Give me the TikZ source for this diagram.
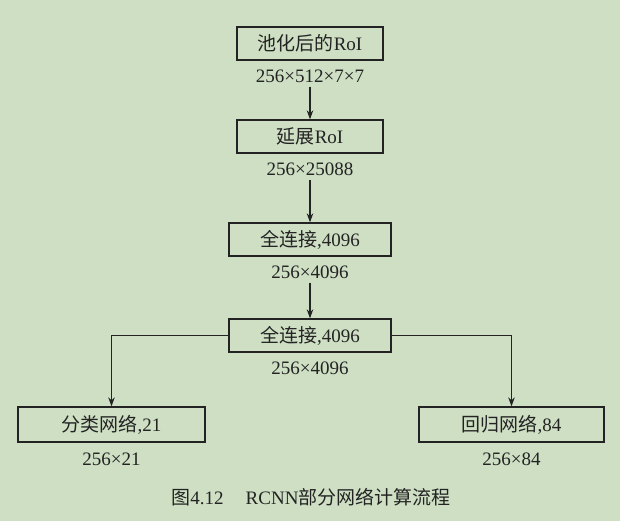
\documentclass[tikz,border=0pt]{standalone}
\usepackage{fontspec}
\setmainfont{Liberation Serif}
\newfontfamily\cjk{Noto Sans CJK SC}
\usetikzlibrary{arrows.meta}
\definecolor{bg}{RGB}{206,223,196}
\definecolor{ink}{RGB}{35,35,35}
\begin{document}
\begin{tikzpicture}[x=1pt,y=-1pt,
  box/.style={draw=ink,line width=1.3pt,minimum height=33pt,inner sep=0pt,text=ink,font=\fontsize{19}{22}\selectfont},
  lab/.style={inner sep=0pt,text=ink,font=\fontsize{19}{22}\selectfont},
  arr/.style={draw=ink,line width=1.2pt,-{Stealth[length=9pt,width=6.5pt]}}]
\fill[bg] (0,0) rectangle (620,521);
\useasboundingbox (0,0) rectangle (620,521);
\node[box,minimum width=146pt] (b1) at (310,43.5) {{\cjk 池化后的}RoI};
\node[lab] (l1) at (310,76) {256×512×7×7};
\node[box,minimum width=146pt] (b2) at (310,136.5) {{\cjk 延展}RoI};
\node[lab] (l2) at (310,169) {256×25088};
\node[box,minimum width=162pt] (b3) at (310,239.5) {{\cjk 全连接},4096};
\node[lab] (l3) at (310,272) {256×4096};
\node[box,minimum width=162pt] (b4) at (310,335.5) {{\cjk 全连接},4096};
\node[lab] (l4) at (310,368) {256×4096};
\node[box,minimum width=187pt,minimum height=35pt] (b5) at (111.5,424.5) {{\cjk 分类网络},21};
\node[lab] (l5) at (111.5,459) {256×21};
\node[box,minimum width=185pt,minimum height=35pt] (b6) at (511.5,424.5) {{\cjk 回归网络},84};
\node[lab] (l6) at (511.5,459) {256×84};
\node[lab] (cap) at (311,497) {{\cjk 图}4.12\hspace{22pt}RCNN{\cjk 部分网络计算流程}};
\draw[arr] ([yshift=-4pt]l1.south) -- (b2.north);
\draw[arr] ([yshift=-4pt]l2.south) -- (b3.north);
\draw[arr] ([yshift=-4pt]l3.south) -- (b4.north);
\draw[arr] (b4.west) -| (b5.north);
\draw[arr] (b4.east) -| (b6.north);
\end{tikzpicture}
\end{document}
